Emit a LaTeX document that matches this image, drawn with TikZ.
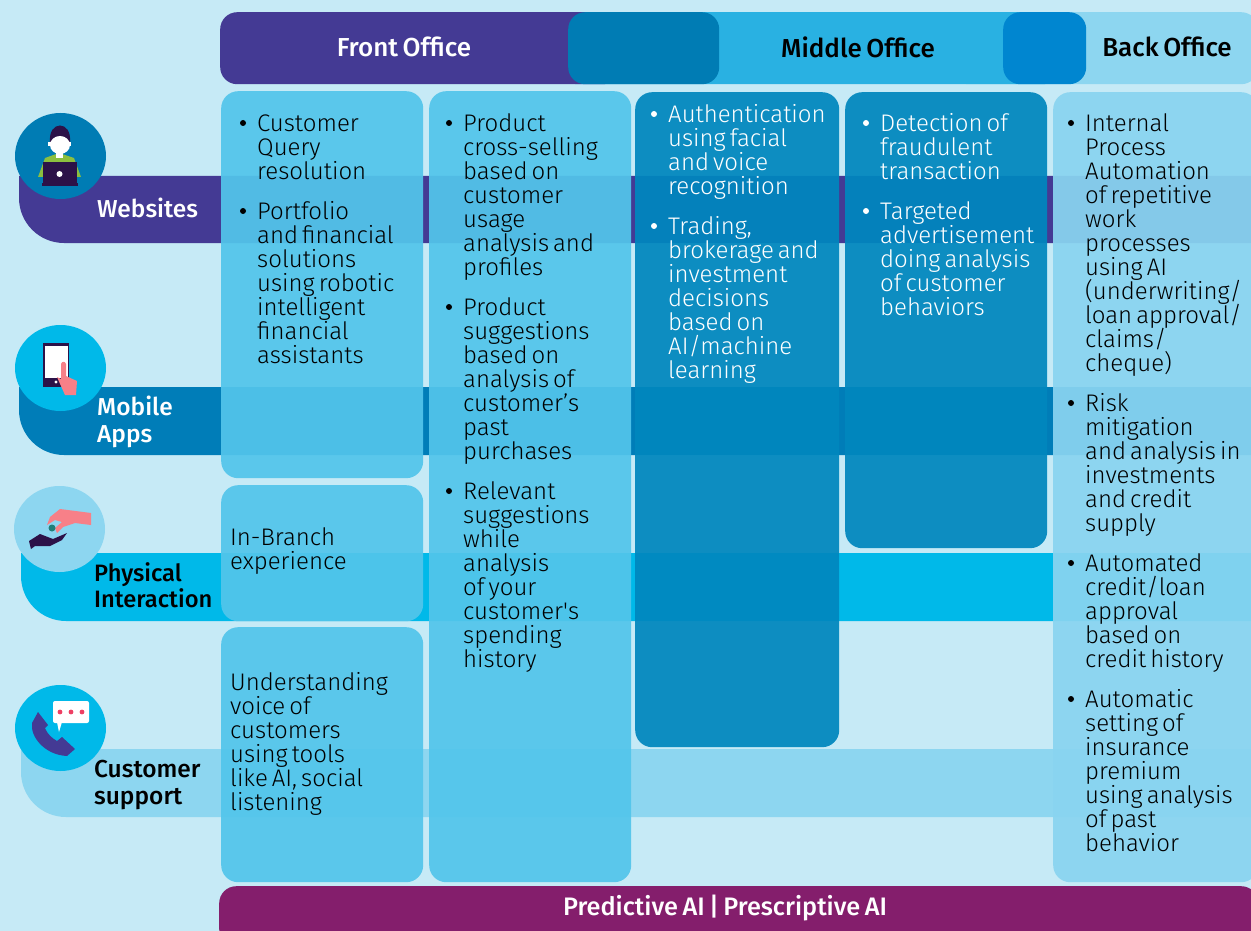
\documentclass[tikz,border=0pt]{standalone}
\usepackage{fontspec}
\setmainfont{Fira Sans Light}[WordSpace=0.6]
\newfontfamily\labelfont{Fira Sans Medium}[WordSpace=0.7]
\usetikzlibrary{shapes.geometric}
\definecolor{bgblue}{HTML}{C6EAF6}
\definecolor{darkpurple}{HTML}{443A94}
\definecolor{mobileblue}{HTML}{007DB8}
\definecolor{skyblue}{HTML}{00B9E9}
\definecolor{paleblue}{HTML}{8DD6F0}
\definecolor{midblue}{HTML}{29B1E2}
\definecolor{blockblue}{HTML}{007CB4}
\definecolor{backblock}{HTML}{0086D0}
\definecolor{frontcard}{HTML}{52C5EB}
\definecolor{midcard}{HTML}{0087BE}
\definecolor{backcard}{HTML}{89D4F0}
\definecolor{plum}{HTML}{841E6C}
\definecolor{inkdark}{HTML}{2C1248}
\definecolor{pinkhand}{HTML}{F78088}
\definecolor{shirtgreen}{HTML}{8CBF3F}
\definecolor{bubbledot}{HTML}{EE3F63}
\definecolor{cointeal}{HTML}{1F7F7A}
\tikzset{
    headbar/.style={draw=none,rounded corners=17,anchor=north west,minimum height=72,inner sep=0},
    card/.style={draw=none,rounded corners=17,anchor=north west,inner sep=0,fill opacity=.93},
    iconround/.style={ellipse,draw=none,minimum width=91,minimum height=86,inner sep=0},
    labeltext/.style={font=\labelfont\fontsize{24.5}{27}\selectfont,align=left,anchor=north west,inner sep=0},
    headtext/.style={font=\labelfont\fontsize{26}{27}\selectfont,inner sep=0},
    itemtext/.style={font=\fontsize{24}{24}\selectfont,align=left,anchor=north west,inner sep=0,
        execute at begin node={\lineskiplimit=-10pt\relax}},
    itemdot/.style={circle,fill,minimum size=6,inner sep=0},
}
% bullet at #2, text at #2+15, first line centred on #3
\newcommand{\cardpoint}[4]{
    \node[itemdot] (#1dot) at (#2,#3) {};
    \node[itemtext] (#1) at (#2+14,#3-10) {\vrule width 0pt height 18pt\relax #4};
}
\begin{document}
\begin{tikzpicture}[x=1pt,y=-1pt]
    \fill[bgblue] (0,0) rectangle (1251,931);
    \useasboundingbox (0,0) rectangle (1251,931);
    % bands
    \fill[darkpurple] (19,176) [rounded corners=45] -- (19,243) [sharp corners] -- (1251,243) -- (1251,176) -- cycle;
    \fill[mobileblue] (19,387) [rounded corners=45] -- (19,455) [sharp corners] -- (1251,455) -- (1251,387) -- cycle;
    \fill[skyblue] (21,553) [rounded corners=45] -- (21,621) [sharp corners] -- (1251,621) -- (1251,553) -- cycle;
    \fill[paleblue] (21,749) [rounded corners=45] -- (21,817) [sharp corners] -- (1251,817) -- (1251,749) -- cycle;
    % header
    \node[headbar,fill=paleblue,minimum width=307] (backbar) at (951,12) {};
    \node[headbar,fill=midblue,minimum width=500] (midbar) at (560,12) {};
    \node[headbar,fill=darkpurple,minimum width=400] (frontbar) at (220,12) {};
    \node[headbar,fill=blockblue,minimum width=151] (frontblock) at (568,12) {};
    \node[headbar,fill=backblock,minimum width=83] (backblock) at (1003,12) {};
    \node[headtext,text=white] (fronthead) at (404,47) {Front Office};
    \node[headtext] (midhead) at (858,47) {Middle Office};
    \node[headtext] (backhead) at (1167,47) {Back Office};
    % cards
    \node[card,fill=frontcard,minimum width=202,minimum height=387] (querycard) at (221,91) {};
    \node[card,fill=frontcard,minimum width=202,minimum height=136] (branchcard) at (221,485) {};
    \node[card,fill=frontcard,minimum width=202,minimum height=255] (voicecard) at (221,627) {};
    \node[card,fill=frontcard,minimum width=202,minimum height=791] (productcard) at (429,91) {};
    \node[card,fill=midcard,minimum width=204,minimum height=655] (authcard) at (635,92) {};
    \node[card,fill=midcard,minimum width=202,minimum height=456] (fraudcard) at (845,92) {};
    \node[card,fill=backcard,minimum width=205,minimum height=790] (backcard) at (1053,92) {};
    % footer
    \node[draw=none,fill=plum,rounded corners=17,anchor=north west,minimum width=1039,minimum height=60,inner sep=0] (aibar) at (219,886) {};
    \node[headtext,text=white,font=\labelfont\fontsize{25.3}{27}\selectfont] (aitext) at (725,908) {Predictive AI | Prescriptive AI};
    % texts
    \cardpoint{query}{243}{123}{Customer\\Query\\resolution}
    \cardpoint{portfolio}{243}{211}{Portfolio\\and financial\\solutions\\using robotic\\intelligent\\financial\\assistants}
    \node[itemtext] (branchtext) at (230,527) {In-Branch\\experience};
    \node[itemtext] (voicetext) at (230,672) {Understanding\\voice of\\customers\\using tools\\like AI, social\\listening};
    \cardpoint{selling}{449}{123}{Product\\cross-selling\\based on\\customer\\usage\\analysis and\\profiles}
    \cardpoint{suggest}{449}{307}{Product\\suggestions\\based on\\analysis of\\customer’s\\past\\purchases}
    \cardpoint{relevant}{449}{491}{Relevant\\suggestions\\while\\analysis\\of your\\customer\textquotesingle s\\spending\\history}
    \begin{scope}[every node/.append style={text=white,white}]
        \cardpoint{auth}{654}{114}{Authentication\\using facial\\and voice\\recognition}
        \cardpoint{trading}{654}{226}{Trading,\\brokerage and\\investment\\decisions\\based on\\AI/machine\\learning}
        \cardpoint{fraud}{866}{123}{Detection of\\fraudulent\\transaction}
        \cardpoint{advert}{866}{211}{Targeted\\advertisement\\doing analysis\\of customer\\behaviors}
    \end{scope}
    \cardpoint{internal}{1071}{123}{Internal\\Process\\Automation\\of repetitive\\work\\processes\\using AI\\(underwriting/\\loan approval/\\claims/\\cheque)}
    \cardpoint{risk}{1071}{403}{Risk\\mitigation\\and analysis in\\investments\\and credit\\supply}
    \cardpoint{credit}{1071}{563}{Automated\\credit/loan\\approval\\based on\\credit history}
    \cardpoint{premium}{1071}{699}{Automatic\\setting of\\insurance\\premium\\using analysis\\of past\\behavior}
    % channel labels
    \node[labeltext,text=white] (weblabel) at (97,198) {Websites};
    \node[labeltext,text=white] (applabel) at (97,396) {Mobile\\Apps};
    \node[labeltext,font=\labelfont\fontsize{23.7}{26}\selectfont] (physlabel) at (94,562) {Physical\\Interaction};
    \node[labeltext] (suplabel) at (94,760) {Customer\\support};
    % icons
    \node[iconround,fill=blockblue] (webicon) at (60.5,156) {};
    \fill[shirtgreen] (38,177) -- (45,158) -- (59,153) -- (74,158) -- (81,177) -- cycle;
    \fill[inkdark] (50,142) .. controls (48,120) and (72,120) .. (70,142) -- cycle;
    \fill[white] (60,145) ellipse (10 and 9);
    \fill[white] (56,150) rectangle (63,158);
    \fill[white] (48,142) rectangle (71,146);
    \fill[inkdark] (43,162) rectangle (77,183);
    \fill[inkdark] (42,183) rectangle (78,186);
    \fill[white] (59.5,174) circle (3);
    \node[iconround,fill=skyblue] (appicon) at (60.5,368) {};
    \fill[inkdark] (43,343) rectangle (69,387);
    \fill[white] (45,346) rectangle (68,378);
    \fill[white] (56,382) circle (1.7);
    \fill[pinkhand] (61,364) .. controls (62,361) and (65,361) .. (66,364) -- (66,376) -- (77,381) -- (76,395) -- (65,395) -- (57,377) -- (61,379) -- cycle;
    \node[iconround,fill=paleblue] (handicon) at (59.5,529) {};
    \fill[pinkhand] (91,513) -- (91,525) -- (75,523) -- (63,527) -- (57,533) -- (55,528) -- (62,522) -- (55,520) -- (47,525) -- (50,517) -- (60,509) -- cycle;
    \fill[inkdark] (29,541) -- (40,534) -- (53,539) -- (67,533) -- (62,540) -- (50,546) -- (35,546) -- (31,549) -- cycle;
    \fill[cointeal] (52,528) circle (3.5);
    \node[iconround,fill=skyblue] (callicon) at (60.5,728) {};
    \fill[darkpurple] (38,712) -- (48,725) -- (45,728) .. controls (48,735) and (52,738) .. (57,741) -- (62,737) -- (75,749) -- (67,756) .. controls (45,755) and (30,737) .. (32,723) -- cycle;
    \fill[white,rounded corners=2] (53,701) rectangle (89,723);
    \fill[white] (57,722) -- (59,732) -- (62,722) -- cycle;
    \foreach \dotx in {60,71,82}
        \fill[bubbledot] (\dotx,712) circle (2.4);
\end{tikzpicture}
\end{document}
